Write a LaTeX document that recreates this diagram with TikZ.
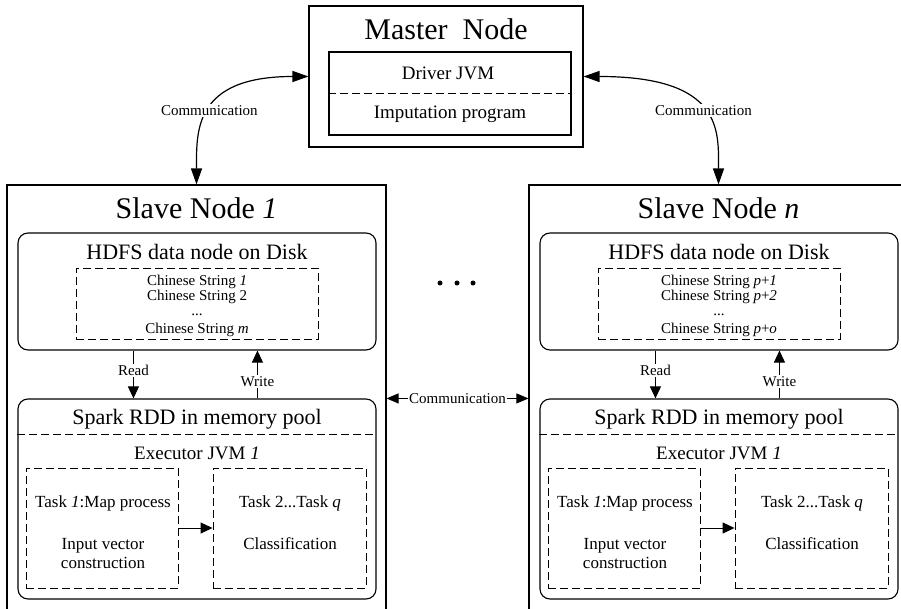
\documentclass[tikz,border=0pt]{standalone}
\usepackage{fontspec}
\setmainfont{Liberation Serif}
\usetikzlibrary{arrows.meta, positioning, calc}

\begin{document}
\begin{tikzpicture}[x=1pt, y=-1pt,
    box/.style={draw, line width=1.1pt, inner sep=0pt},
    rbox/.style={box, rounded corners=10pt},
    dbox/.style={draw, line width=0.9pt, dash pattern=on 8pt off 4pt, inner sep=0pt},
    dline/.style={line width=0.9pt, dash pattern=on 8pt off 4pt},
    arr/.style={-{Triangle[length=12pt, width=11pt]}, line width=0.9pt},
    twoarr/.style={{Triangle[length=12pt, width=10pt]}-{Triangle[length=12pt, width=10pt]}, line width=0.9pt},
    bigarr/.style={{Triangle[length=16pt, width=11pt]}-{Triangle[length=16pt, width=11pt]}, line width=1.2pt},
    lbl/.style={font=\fontsize{15}{15}\selectfont, fill=white, inner sep=1.5pt},
    ttl/.style={font=\fontsize{30}{30}\selectfont, inner sep=0pt},
    sub/.style={font=\fontsize{22}{22}\selectfont, inner sep=0pt},
    mid/.style={font=\fontsize{19}{19}\selectfont, inner sep=0pt},
    tsk/.style={font=\fontsize{17}{19}\selectfont, inner sep=0pt, align=center},
    str/.style={font=\fontsize{15}{15}\selectfont, inner sep=0pt, align=center}]
    \clip (0,0) rectangle (901,609);

    % master
    \node[box, minimum width=274, minimum height=141] (master) at (446,76.5) {};
    \node[ttl] (mtitle) at (446,29) {Master\ \ Node};
    \node[box, minimum width=242, minimum height=83] (driver) at (450,93.5) {};
    \draw[dline] (driver.west) -- (driver.east);
    \node[mid] (jvm) at (448,73) {Driver JVM};
    \node[mid] (prog) at (450,114) {Imputation program};

    % slave 1
    \node[box, minimum width=379, minimum height=450] (slave1) at (196.5,410) {};
    \node[ttl] (s1title) at (196.5,208) {Slave Node \textit{1}};
    \node[rbox, minimum width=358, minimum height=117] (hdfs1) at (197,291.5) {};
    \node[sub] (h1title) at (197,251.5) {HDFS data node on Disk};
    \node[dbox, minimum width=242, minimum height=71] (strs1) at (197,303.5) {};
    \node[str] (s1list) at (197,306)
        {Chinese String \textit{1}\\Chinese String 2\\...\\[3pt]Chinese String \textit{m}};
    \node[rbox, minimum width=358, minimum height=200] (spark1) at (197,499) {};
    \node[sub] (p1title) at (197,419) {Spark RDD in memory pool};
    \draw[dline] ($(spark1.north west)+(0,36)$) -- ($(spark1.north east)+(0,36)$);
    \node[mid] (e1title) at (197,453) {Executor JVM \textit{1}};
    \node[dbox, minimum width=152, minimum height=120] (task1a) at (102,528) {};
    \node[dbox, minimum width=153, minimum height=120] (task1b) at (289.5,528) {};
    \node[tsk] (t1a) at (103,503) {Task \textit{1}:Map process};
    \node[tsk] (t1b) at (103,554) {Input vector\\construction};
    \node[tsk] (t1c) at (290,503) {Task 2...Task \textit{q}};
    \node[tsk] (t1d) at (290,543.5) {Classification};
    \draw[arr] (task1a.east) -- (task1b.west);
    \draw[arr] ($(hdfs1.south west)+(116,0)$) -- ($(spark1.north west)+(116,0)$)
        node[lbl, pos=0.42] {Read};
    \draw[arr] ($(spark1.north west)+(240,0)$) -- ($(hdfs1.south west)+(240,0)$)
        node[lbl, pos=0.36] {Write};

    % slave n
    \node[box, minimum width=379, minimum height=450] (slaven) at (718.5,410) {};
    \node[ttl] (sntitle) at (718.5,208) {Slave Node \textit{n}};
    \node[rbox, minimum width=358, minimum height=117] (hdfsn) at (719,291.5) {};
    \node[sub] (hntitle) at (719,251.5) {HDFS data node on Disk};
    \node[dbox, minimum width=242, minimum height=71] (strsn) at (719,303.5) {};
    \node[str] (snlist) at (719,306)
        {Chinese String \textit{p}+\textit{1}\\Chinese String \textit{p}+\textit{2}\\...\\[3pt]Chinese String \textit{p}+\textit{o}};
    \node[rbox, minimum width=358, minimum height=200] (sparkn) at (719,499) {};
    \node[sub] (pntitle) at (719,419) {Spark RDD in memory pool};
    \draw[dline] ($(sparkn.north west)+(0,36)$) -- ($(sparkn.north east)+(0,36)$);
    \node[mid] (entitle) at (719,453) {Executor JVM \textit{1}};
    \node[dbox, minimum width=152, minimum height=120] (taskna) at (624,528) {};
    \node[dbox, minimum width=153, minimum height=120] (tasknb) at (811.5,528) {};
    \node[tsk] (tna) at (625,503) {Task \textit{1}:Map process};
    \node[tsk] (tnb) at (625,554) {Input vector\\construction};
    \node[tsk] (tnc) at (812,503) {Task 2...Task \textit{q}};
    \node[tsk] (tnd) at (812,543.5) {Classification};
    \draw[arr] (taskna.east) -- (tasknb.west);
    \draw[arr] ($(hdfsn.south west)+(116,0)$) -- ($(sparkn.north west)+(116,0)$)
        node[lbl, pos=0.42] {Read};
    \draw[arr] ($(sparkn.north west)+(240,0)$) -- ($(hdfsn.south west)+(240,0)$)
        node[lbl, pos=0.36] {Write};

    % links
    \draw[bigarr] (master.west) .. controls +(-115,0) and +(0,-53) .. (slave1.north)
        node[lbl, pos=0.5] {Communication};
    \draw[bigarr] (master.east) .. controls +(140,0) and +(0,-53) .. (slaven.north)
        node[lbl, pos=0.5] {Communication};
    \draw[twoarr] (slave1.east |- spark1.north) -- (slaven.west |- spark1.north)
        node[lbl, midway] {Communication};

    \fill (440,283) circle (2.5);
    \fill (457,283) circle (2.5);
    \fill (473,283) circle (2.5);
\end{tikzpicture}
\end{document}
